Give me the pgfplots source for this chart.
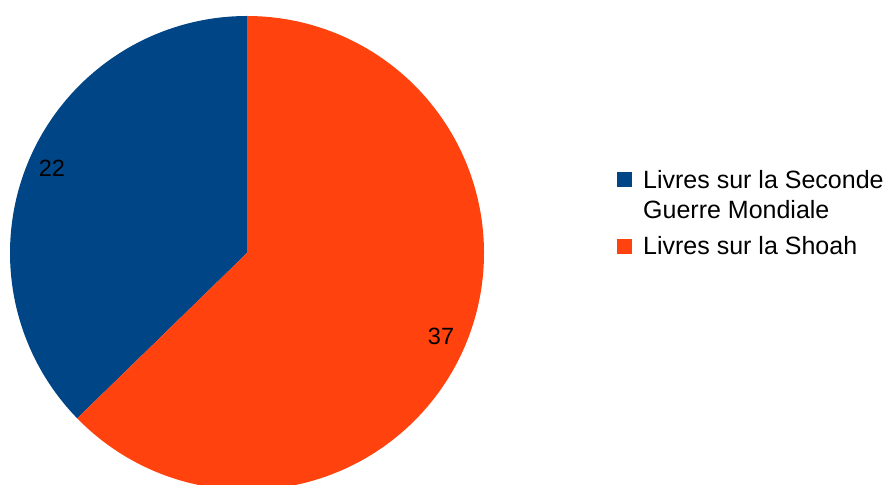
\documentclass[border=0pt]{standalone}
\usepackage{fontspec}
\setmainfont{Liberation Sans}
\usepackage{pgfplots}
\pgfplotsset{compat=1.18}
\definecolor{pieblue}{HTML}{004586}
\definecolor{pieorange}{HTML}{FF420E}

% slice values
\def\valA{22}   % Livres sur la Seconde Guerre Mondiale
\def\valB{37}   % Livres sur la Shoah
\pgfmathsetmacro{\angA}{90+360*\valA/(\valA+\valB)}

\begin{document}
\begin{tikzpicture}
  \begin{axis}[
      width=890pt, height=484pt, scale only axis,
      xmin=0, xmax=890, ymin=0, ymax=484,
      hide axis,
      font=\fontsize{23.5pt}{30pt}\selectfont,
      legend style={
          at={(axis cs:617,316)}, anchor=north west,
          draw=none, fill=none, inner sep=0pt,
          row sep=13pt, column sep=9pt,
          cells={anchor=base west, inner sep=0pt, align=left},
          font=\fontsize{25pt}{30pt}\selectfont},
      legend image code/.code={%
          \path[#1] (0pt,1pt) rectangle (15pt,16pt);},
    ]
    % blue slice, counterclockwise from 12 o'clock
    \addplot[fill=pieblue, draw=none, domain=90:\angA, samples=200, variable=\t,
             legend image post style={yshift=30pt}]
      ({247+237*cos(t)}, {231+237*sin(t)}) -- (axis cs:247,231) -- cycle;
    % orange slice
    \addplot[fill=pieorange, draw=none, domain=\angA:450, samples=300, variable=\t]
      ({247+237*cos(t)}, {231+237*sin(t)}) -- (axis cs:247,231) -- cycle;
    \legend{{Livres sur la Seconde\\Guerre Mondiale}, {Livres sur la Shoah}}
    \node[anchor=base, inner sep=0pt] at (axis cs:52,307) {\valA};
    \node[anchor=base, inner sep=0pt] at (axis cs:441,139) {\valB};
  \end{axis}
  \pgfresetboundingbox
  \path (0,0) rectangle (890pt,484pt);
\end{tikzpicture}
\end{document}
